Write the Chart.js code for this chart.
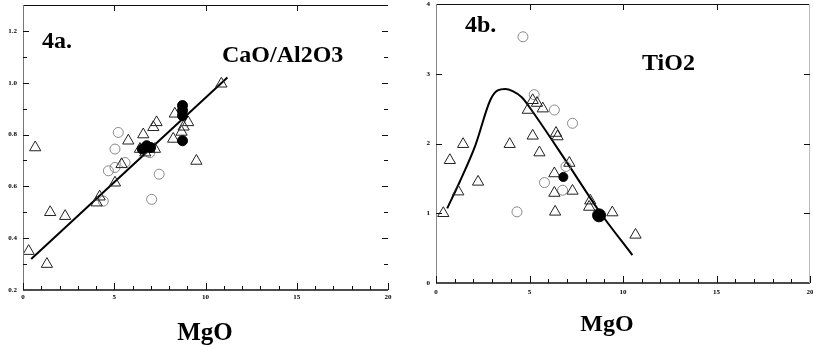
<!DOCTYPE html>
<html><head><meta charset="utf-8">
<script src="https://cdn.jsdelivr.net/npm/chart.js@4"></script>
<style>
html,body{margin:0;padding:0;background:#fff;}
#wrap{position:relative;width:813px;height:347px;overflow:hidden;}
.c{position:absolute;top:0;height:347px;}
#ca{left:0;width:410px;}
#cb{left:410px;width:403px;}
</style></head><body>
<div id="wrap"><div class="c" id="ca"><canvas id="a" width="410" height="347"></canvas></div><div class="c" id="cb"><canvas id="b" width="403" height="347"></canvas></div></div>
<script>
// ---- data ----
const mgoTickLabels = [0, 5, 10, 15, 20];
const caoTickLabels = [0.2, 0.4, 0.6, 0.8, 1.0, 1.2];
const tioTickLabels = [0, 1, 2, 3, 4];

// Panel 4a: CaO/Al2O3 vs MgO
const caoTriangles = [[0.67,0.75],[0.31,0.35],[1.31,0.30],[1.49,0.50],[2.31,0.485],[4.04,0.537],[5.04,0.614],[5.40,0.685],[5.77,0.776],[6.59,0.80],[6.41,0.744],[6.70,0.73],[7.23,0.744],[7.14,0.828],[7.32,0.847],[8.32,0.88],[8.23,0.783],[8.69,0.81],[9.05,0.847],[8.80,0.83],[9.50,0.698],[10.87,0.996],[6.90,0.745],[4.20,0.56]];
const caoCircles = [[5.22,0.808],[5.04,0.744],[4.68,0.66],[5.04,0.673],[5.59,0.692],[4.40,0.543],[7.46,0.647],[7.05,0.55],[6.95,0.73]];
const caoFilled = [[8.74,0.912],[8.74,0.893],[8.74,0.873],[8.74,0.776],[6.78,0.757],[6.99,0.75],[6.54,0.744]];
const caoTrend = [[0.45,0.32],[11.2,1.02]];

// Panel 4b: TiO2 vs MgO
const tioTriangles = [[0.39,1.0],[0.74,1.76],[1.19,1.31],[1.45,1.99],[2.25,1.45],[3.94,1.99],[4.91,2.48],[5.17,2.62],[5.40,2.58],[5.71,2.50],[5.17,2.11],[5.53,1.87],[6.42,2.15],[6.50,2.10],[6.33,1.57],[6.33,1.29],[6.37,1.02],[7.30,1.32],[7.13,1.72],[8.19,1.09],[8.25,1.18],[9.43,1.01],[10.67,0.69]];
const tioCircles = [[4.65,3.53],[6.33,2.48],[7.30,2.29],[6.95,1.67],[5.80,1.44],[6.77,1.33],[4.33,1.02],[5.25,2.70]];
const tioFilled = [[6.81,1.52],[8.72,0.97]];
const tioCurve = [[0.6,1.07],[1.3,1.47],[2.1,1.97],[2.9,2.62],[3.3,2.76],[3.7,2.78],[4.1,2.75],[4.6,2.66],[5.0,2.52],[7.0,1.73],[8.7,1.04],[10.5,0.40]];

const toPts = arr => arr.map(p => ({x: p[0], y: p[1]}));
const SERIF = '"Liberation Serif","DejaVu Serif",serif';

function decorPlugin(cfg) {
  return {
    id: 'decor',
    afterDraw(chart) {
      const {ctx, chartArea: ca, scales: {x, y}} = chart;
      ctx.save();
      ctx.lineWidth = 1;
      ctx.strokeStyle = '#111';
      ctx.beginPath(); ctx.moveTo(ca.left, ca.top + 0.5); ctx.lineTo(ca.right, ca.top + 0.5); ctx.stroke();
      ctx.lineWidth = 1.5;
      ctx.beginPath(); ctx.moveTo(ca.left, ca.bottom); ctx.lineTo(ca.right, ca.bottom); ctx.stroke();
      ctx.lineWidth = 1;
      ctx.strokeStyle = cfg.leftColor;
      ctx.beginPath(); ctx.moveTo(ca.left + 0.5, ca.top); ctx.lineTo(ca.left + 0.5, ca.bottom); ctx.stroke();
      if (cfg.rightColor) {
        ctx.strokeStyle = cfg.rightColor;
        ctx.beginPath(); ctx.moveTo(ca.right - 0.5, ca.top); ctx.lineTo(ca.right - 0.5, ca.bottom); ctx.stroke();
      }
      ctx.strokeStyle = '#111';
      ctx.lineWidth = 1;
      x.ticks.forEach(t => {
        const px = Math.round(x.getPixelForValue(t.value)) + 0.5;
        const major = mgoTickLabels.includes(t.value);
        const len = major ? 7 : 4;
        ctx.beginPath(); ctx.moveTo(px, ca.bottom); ctx.lineTo(px, ca.bottom - len); ctx.stroke();
        if (major && t.value > 0 && t.value < 20) {
          ctx.beginPath(); ctx.moveTo(px, ca.top); ctx.lineTo(px, ca.top + 6); ctx.stroke();
        }
      });
      y.ticks.forEach(t => {
        const py = Math.round(y.getPixelForValue(t.value)) + 0.5;
        if (t.value <= y.min + 1e-9 || t.value >= y.max - 1e-9) return;
        const major = cfg.yMajor.some(v => Math.abs(v - t.value) < 1e-6);
        const len = major ? 6 : 4;
        ctx.beginPath(); ctx.moveTo(ca.left, py); ctx.lineTo(ca.left + len, py); ctx.stroke();
        ctx.beginPath(); ctx.moveTo(ca.right, py); ctx.lineTo(ca.right - len, py); ctx.stroke();
      });
      ctx.fillStyle = '#000';
      ctx.textBaseline = 'alphabetic';
      cfg.texts.forEach(tx => {
        ctx.font = 'bold ' + tx.size + 'px ' + SERIF;
        ctx.textAlign = tx.align || 'left';
        ctx.fillText(tx.text, tx.x, tx.y);
      });
      ctx.restore();
    }
  };
}

function makeChart(id, o) {
  return new Chart(document.getElementById(id), {
    type: 'scatter',
    data: {
      datasets: [
        {label: 'filled', data: toPts(o.filled), pointStyle: 'circle', pointRadius: o.filledRadius, pointBackgroundColor: '#000', pointBorderColor: '#000', borderWidth: 1},
        {label: 'triangles', data: toPts(o.triangles), pointStyle: 'triangle', pointRadius: 6.5, pointBackgroundColor: 'rgba(255,255,255,0)', pointBorderColor: '#222', pointBorderWidth: 1},
        {label: 'circles', data: toPts(o.circles), pointStyle: 'circle', pointRadius: 5, pointBackgroundColor: 'rgba(255,255,255,0)', pointBorderColor: '#888', pointBorderWidth: 1},
        {label: 'trend', data: toPts(o.line), showLine: true, pointRadius: 0, borderColor: '#000', borderWidth: 2, cubicInterpolationMode: 'monotone', fill: false}
      ]
    },
    options: {
      responsive: false,
      animation: false,
      devicePixelRatio: 1,
      layout: {padding: o.padding, autoPadding: false},
      plugins: {legend: {display: false}, tooltip: {enabled: false}},
      scales: {
        x: {
          type: 'linear', min: 0, max: 20,
          grid: {display: false, drawTicks: false}, border: {display: false},
          ticks: {stepSize: 1, autoSkip: false, maxRotation: 0, padding: o.xPad, color: '#000',
            font: {size: 7, weight: 'bold', family: SERIF},
            callback: v => mgoTickLabels.includes(v) ? String(v) : ''},
          afterFit: s => { s.height = o.xHeight; s.paddingLeft = 0; s.paddingRight = 0; }
        },
        y: {
          type: 'linear', min: o.ymin, max: o.ymax,
          grid: {display: false, drawTicks: false}, border: {display: false},
          ticks: {stepSize: o.ystep, autoSkip: false, padding: o.yPad, color: '#000',
            font: {size: 7, weight: 'bold', family: SERIF},
            callback: o.yCallback},
          afterFit: s => { s.width = o.yWidth; s.paddingTop = 0; s.paddingBottom = 0; }
        }
      }
    },
    plugins: [decorPlugin(o.decor)]
  });
}

makeChart('a', {
  filled: caoFilled, triangles: caoTriangles, circles: caoCircles, line: caoTrend,
  filledRadius: 5,
  padding: {top: 5, right: 22, left: 0, bottom: 0},
  xHeight: 57, xPad: 3, yWidth: 23, yPad: 6,
  ymin: 0.2, ymax: 1.3, ystep: 0.1,
  yCallback: v => caoTickLabels.some(t => Math.abs(t - v) < 1e-6) ? v.toFixed(1) : '',
  decor: {leftColor: '#777', rightColor: null, yMajor: caoTickLabels,
    texts: [
      {text: '4a.', x: 42, y: 48, size: 24},
      {text: 'CaO/Al2O3', x: 222, y: 62, size: 24},
      {text: 'MgO', x: 205, y: 340, size: 25, align: 'center'}
    ]}
});

makeChart('b', {
  filled: tioFilled, triangles: tioTriangles, circles: tioCircles, line: tioCurve,
  filledRadius: [4.5, 6.5],
  padding: {top: 4, right: 3, left: 0, bottom: 0},
  xHeight: 64, xPad: 5, yWidth: 26, yPad: 6,
  ymin: 0, ymax: 4, ystep: 1,
  yCallback: v => tioTickLabels.includes(v) ? String(v) : '',
  decor: {leftColor: '#888', rightColor: '#bbb', yMajor: tioTickLabels,
    texts: [
      {text: '4b.', x: 55, y: 32, size: 24},
      {text: 'TiO2', x: 232, y: 70, size: 24},
      {text: 'MgO', x: 197, y: 331, size: 24, align: 'center'}
    ]}
});
</script>
</body></html>
